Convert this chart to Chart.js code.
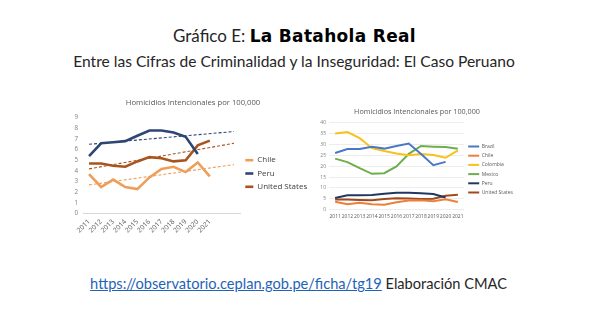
<!DOCTYPE html>
<html>
<head>
<meta charset="utf-8">
<script src="https://cdn.jsdelivr.net/npm/chart.js@4"></script>
<style>
html,body{margin:0;padding:0;background:#fff;width:589px;height:331px;overflow:hidden;position:relative;}
.txt{position:absolute;white-space:nowrap;line-height:1;display:inline-block;color:#262626;font-family:Lato,sans-serif;}
.heavy{font-family:"DejaVu Sans",sans-serif;font-weight:bold;color:#000;letter-spacing:0.02em;}
a{color:#1F63B8;text-decoration:underline;}
canvas{position:absolute;}
#cL{left:60px;top:92px;z-index:1;}
#cR{left:300px;top:100px;z-index:2;}
</style>
</head>
<body>
<div id="h1" class="txt">Gráfico E: <span class="heavy">La Batahola Real</span></div>
<div id="h2" class="txt">Entre las Cifras de Criminalidad y la Inseguridad: El Caso Peruano</div>
<div id="ft" class="txt"><a href="https://observatorio.ceplan.gob.pe/ficha/tg19">https://observatorio.ceplan.gob.pe/ficha/tg19</a> Elaboración CMAC</div>
<canvas id="cL" width="280" height="163"></canvas>
<canvas id="cR" width="289" height="139"></canvas>
<script>
// ---------- DATA ----------
const years = ['2011','2012','2013','2014','2015','2016','2017','2018','2019','2020','2021'];
const leftLabels = ['2011','2012','2013','2014','2015','2016','2017','2018','2019','2020','2021','',''];
const chile  = [3.7, 2.5, 3.2, 2.5, 2.3, 3.4, 4.2, 4.4, 3.9, 4.8, 3.5];
const peru   = [5.4, 6.6, 6.7, 6.8, 7.3, 7.8, 7.8, 7.6, 7.2, 5.6, null];
const usa    = [4.7, 4.7, 4.5, 4.4, 4.9, 5.3, 5.2, 4.9, 5.0, 6.4, 6.85];
// trend lines (2011 and 2023 ends)
const chileTrend = [2.7, null, null, null, null, null, null, null, null, null, null, null, 4.6];
const peruTrend  = [6.5, null, null, null, null, null, null, null, null, null, null, null, 7.7];
const usaTrend   = [4.2, null, null, null, null, null, null, null, null, null, null, null, 6.6];
const brazil   = [26.1, 27.9, 27.9, 29.0, 28.1, 29.3, 30.4, 25.6, 20.5, 22.0, null];
const colombia = [35.1, 35.7, 32.9, 28.3, 27.0, 25.9, 25.0, 25.6, 25.2, 23.9, 27.3];
const mexico   = [23.5, 21.9, 19.1, 16.5, 16.8, 19.9, 25.7, 29.3, 29.0, 28.8, 28.0];
const chartTitle = 'Homicidios Intencionales por 100,000';

// ---------- HEADINGS ----------
function fitText(id, targetW, cx, cy){
  const el = document.getElementById(id);
  el.style.fontSize = '100px';
  const w = el.getBoundingClientRect().width;
  el.style.fontSize = (100*targetW/w)+'px';
  const r = el.getBoundingClientRect();
  el.style.left = (cx - r.width/2)+'px';
  el.style.top = (cy - r.height/2)+'px';
}
fitText('h1', 243, 294.5, 36.5);
fitText('h2', 442, 294, 61.5);
fitText('ft', 417, 298.5, 284.5);

// ---------- CHARTS ----------
const F = 'Open Sans';
const C = {
  chileL:'#EF9E5A', peruL:'#2E4674', usL:'#A9531F',
  brazil:'#4A79C4', chile:'#EE7F3A', colombia:'#F6C21B', mexico:'#6FAE48', peru:'#22375F', us:'#9E4A1C'
};
function line(label, data, color, w){
  return {label, data, borderColor:color, backgroundColor:color, borderWidth:w, pointRadius:0, tension:0, fill:false};
}
function trend(label, data, color){
  return {label, data, borderColor:color, backgroundColor:color, borderWidth:1.1, borderDash:[3,2], pointRadius:0, spanGaps:true, fill:false};
}

new Chart(document.getElementById('cL'), {
  type:'line',
  data:{labels:leftLabels, datasets:[
    line('Chile', chile, C.chileL, 2.6),
    line('Peru', peru, C.peruL, 2.6),
    line('United States', usa, C.usL, 2.6),
    trend('trend Chile', chileTrend, C.chileL),
    trend('trend Peru', peruTrend, C.peruL),
    trend('trend United States', usaTrend, C.usL)
  ]},
  options:{
    responsive:false, animation:false, devicePixelRatio:1,
    layout:{padding:{left:12,right:26,top:0,bottom:0}},
    plugins:{
      title:{display:true, text:chartTitle, color:'#595959', font:{family:F,size:7.7,weight:'normal'}, padding:{top:6.4,bottom:10}},
      legend:{position:'right', maxWidth:74, labels:{
        filter:(it)=>!it.text.startsWith('trend'),
        usePointStyle:true, pointStyle:'line', pointStyleWidth:8,
        font:{family:F,size:8}, color:'#404040', padding:5.3}},
      tooltip:{enabled:false}
    },
    scales:{
      x:{offset:true, grid:{display:false, drawTicks:false}, border:{display:true,color:'#d9d9d9',width:1},
         ticks:{autoSkip:false, minRotation:45, maxRotation:45, font:{family:F,size:6.8}, color:'#595959', padding:4},
         afterFit:(s)=>{s.height=41.3;}},
      y:{min:0, max:9, grid:{display:false, drawTicks:false}, border:{display:false},
         ticks:{stepSize:1, autoSkip:false, font:{family:F,size:6.3}, color:'#808080', padding:5},
         afterFit:(s)=>{s.width=11;}}
    }
  }
});

new Chart(document.getElementById('cR'), {
  type:'line',
  data:{labels:years, datasets:[
    line('Brazil', brazil, C.brazil, 2),
    line('Chile', chile, C.chile, 2),
    line('Colombia', colombia, C.colombia, 2),
    line('Mexico', mexico, C.mexico, 2),
    line('Peru', peru, C.peru, 2),
    line('United States', usa, C.us, 2)
  ]},
  options:{
    responsive:false, animation:false, devicePixelRatio:1,
    layout:{padding:{left:20,right:75,top:0,bottom:0}},
    plugins:{
      title:{display:true, text:chartTitle, color:'#595959', font:{family:F,size:7.2,weight:'normal'}, padding:{top:7.4,bottom:6.7}},
      legend:{position:'right', maxWidth:50, labels:{
        usePointStyle:true, pointStyle:'line', pointStyleWidth:11,
        font:{family:F,size:5}, color:'#595959', padding:4.2}},
      tooltip:{enabled:false}
    },
    scales:{
      x:{offset:true, grid:{display:false, drawTicks:false}, border:{display:false},
         ticks:{autoSkip:false, maxRotation:0, font:{family:F,size:5}, color:'#595959', padding:4.2},
         afterFit:(s)=>{s.height=29.3;}},
      y:{min:0, max:40, grid:{color:'#e8e8e8', lineWidth:0.8, drawTicks:false}, border:{display:false},
         ticks:{stepSize:5, autoSkip:false, font:{family:F,size:5}, color:'#808080', padding:3},
         afterFit:(s)=>{s.width=9;}}
    }
  }
});
</script>
</body>
</html>
